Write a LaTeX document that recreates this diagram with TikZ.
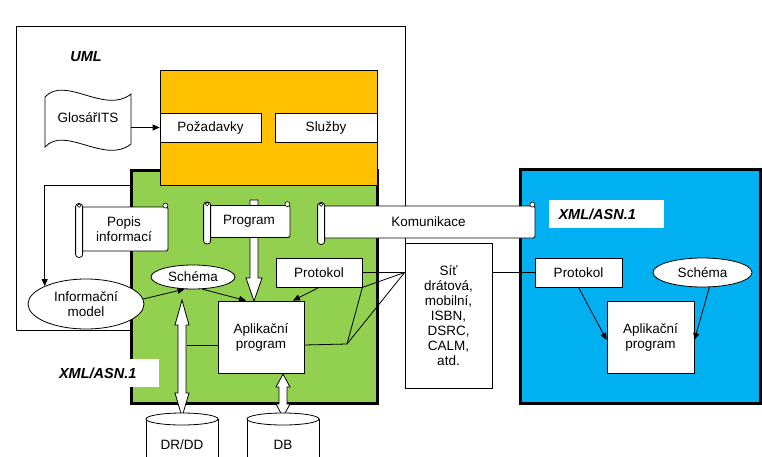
\documentclass[tikz,border=0pt]{standalone}
\usepackage{fontspec}
\setmainfont{Liberation Sans}
\usepackage{tikz}
\usepackage{xcolor}
\usetikzlibrary{arrows.meta}
\usetikzlibrary{shapes.geometric}
\usetikzlibrary{calc}
\definecolor{oranzova}{HTML}{FFC000}
\definecolor{zelena}{HTML}{92D050}
\definecolor{modra}{HTML}{00B0F0}
\tikzset{
	box/.style={draw, fill=white, inner sep=2pt, align=center},
	elipsa/.style={draw, ellipse, fill=white, inner sep=0pt, align=center},
	svitek/.style={draw, fill=white, rounded corners=1.5pt, align=center},
	sipka/.style={-{Triangle[length=7pt,width=6pt]}},
	dutasipka/.style={draw, fill=white},
	tlusty/.style={line width=3pt},
	nadpis/.style={font=\fontsize{14.5}{16}\selectfont\bfseries\itshape},
	stitek/.style={fill=white, nadpis, minimum height=28pt}
}

\begin{document}
\begin{tikzpicture}[x=1pt, y=-1pt, line width=0.8pt, font=\fontsize{13.5}{15}\selectfont]
			\useasboundingbox (0,0) rectangle (762,457);
			% UML
			\draw (131,330) -- (16,330) -- (16,26) -- (405,26) -- (405,243);
			\node[nadpis] (uml) at (86,57) {UML};
			\draw[fill=white] (45,97) .. controls (65,75) and (105,115) .. (131,94) -- (131,144) .. controls (105,165) and (65,125) .. (45,147) -- cycle;
			\node[minimum width=86pt, minimum height=50pt] (glosar) at (88,118) {GlosářITS};
			% zelena + oranzova
			\draw[tlusty, fill=zelena] (131,171) rectangle (377,403);
			\draw[fill=oranzova] (160,70) rectangle (377,185);
			\node[box, minimum width=101pt, minimum height=29pt] (pozadavky) at (210.5,127.5) {Požadavky};
			\node[box, minimum width=102pt, minimum height=29pt] (sluzby) at (326,127.5) {Služby};
			\draw[sipka] (glosar.east |- pozadavky.west) -- (pozadavky.west);
			\node[stitek, minimum width=108pt, text width=92pt, align=left] (xmlL) at (105,373) {XML/ASN.1};
			% duté šipky
			\coordinate (ptip) at (254,301);
			\draw[dutasipka] (ptip) -- ++(8,-23) -- ++(-4,0) -- ++(0,-78) -- ++(-8,0) -- ++(0,78) -- ++(-4,0) -- cycle;
			\draw[dutasipka] (182,300) -- (189,325) -- (186,325) -- (186,393) -- (189,393) -- (182,417) -- (175,393) -- (178,393) -- (178,325) -- (175,325) -- cycle;
			\draw[dutasipka] (283,374) -- (290,387) -- (287,387) -- (287,404) -- (290,404) -- (283,417) -- (276,404) -- (279,404) -- (279,387) -- (276,387) -- cycle;
			% uzly vlevo
			\node[elipsa, minimum width=116pt, minimum height=50pt] (infmodel) at (86,304) {Informační\\model};
			\node[elipsa, minimum width=84pt, minimum height=24pt] (schema) at (193,277) {Schéma};
			\node[box, minimum width=86pt, minimum height=29pt] (protokol) at (319,272.5) {Protokol};
			\node[box, minimum width=86pt, minimum height=72pt] (apl) at (261,337) {Aplikační\\program};
			\coordinate (lstart) at (131,185);
			\draw[sipka] (lstart) -| (infmodel.north west);
			\draw[sipka] (infmodel.5) -- (schema.235);
			\draw[sipka] (schema.-53) -- ([xshift=-15pt]apl.north);
			\draw[sipka] (protokol.south) -- ([xshift=32pt]apl.north);
			% databaze
			\draw[fill=white] (146,419) -- (146,465) -- (218,465) -- (218,419);
			\draw[fill=white] (182,419) ellipse (36 and 6);
			\node (drdd) at (182,445) {DR/DD};
			\draw[fill=white] (247,419) -- (247,465) -- (319,465) -- (319,419);
			\draw[fill=white] (283,419) ellipse (36 and 6);
			\node (db) at (283,445) {DB};
			% sit
			\node[box, minimum width=87pt, minimum height=145pt] (sit) at (448.5,315.5) {Síť\\drátová,\\mobilní,\\ISBN,\\DSRC,\\CALM,\\atd.};
			\coordinate (drline) at (187,345);
			\coordinate (uzel) at (347,344);
			\coordinate (sitvstup) at (sit.west |- protokol.east);
			\draw (drline) -- ([yshift=-8pt]apl.west);
			\draw ([yshift=-8pt]apl.east) -- (uzel) -- (protokol.south east) -- (sitvstup);
			\draw (uzel) -- (sitvstup);
			\draw (protokol.east) -- (sitvstup);
			% modra
			\draw[tlusty, fill=modra] (520,170) rectangle (760,403);
			\node[stitek, minimum width=115pt, text width=96pt, align=left] (xmlR) at (606.5,214) {XML/ASN.1};
			\node[box, minimum width=87pt, minimum height=29pt] (protokolR) at (578.5,272.5) {Protokol};
			\node[elipsa, minimum width=99pt, minimum height=29pt] (schemaR) at (702.5,272.5) {Schéma};
			\node[box, minimum width=87pt, minimum height=72pt] (aplR) at (650.5,337) {Aplikační\\program};
			\draw (sit.east |- protokolR.west) -- (protokolR.west);
			\draw[sipka] (protokolR.south) -- ([yshift=-3pt]aplR.west);
			\draw[sipka] (schemaR.-65) -- ([yshift=-3pt]aplR.east);
			% svitky
			\node[svitek, minimum width=88pt, minimum height=44pt] (popis) at (124,229) {Popis\\informací};
			\node[svitek, minimum width=82pt, minimum height=32pt] (program) at (249,221.5) {Program};
			\node[svitek, minimum width=213pt, minimum height=32pt] (komunikace) at (428.5,222) {Komunikace};
			\foreach \s in {popis,program,komunikace} {
				\draw[fill=white, rounded corners=3pt] ([xshift=-4pt,yshift=3pt]\s.north west) rectangle ([xshift=3pt,yshift=-6pt]\s.south west);
				\draw[fill=white, line width=0.6pt] ([xshift=-0.5pt,yshift=1pt]\s.north west) circle (1.8pt);
				\draw[fill=white, line width=0.6pt] ([xshift=-3pt,yshift=1pt]\s.north east) circle (2.5pt);
			}
		\end{tikzpicture}
\end{document}
